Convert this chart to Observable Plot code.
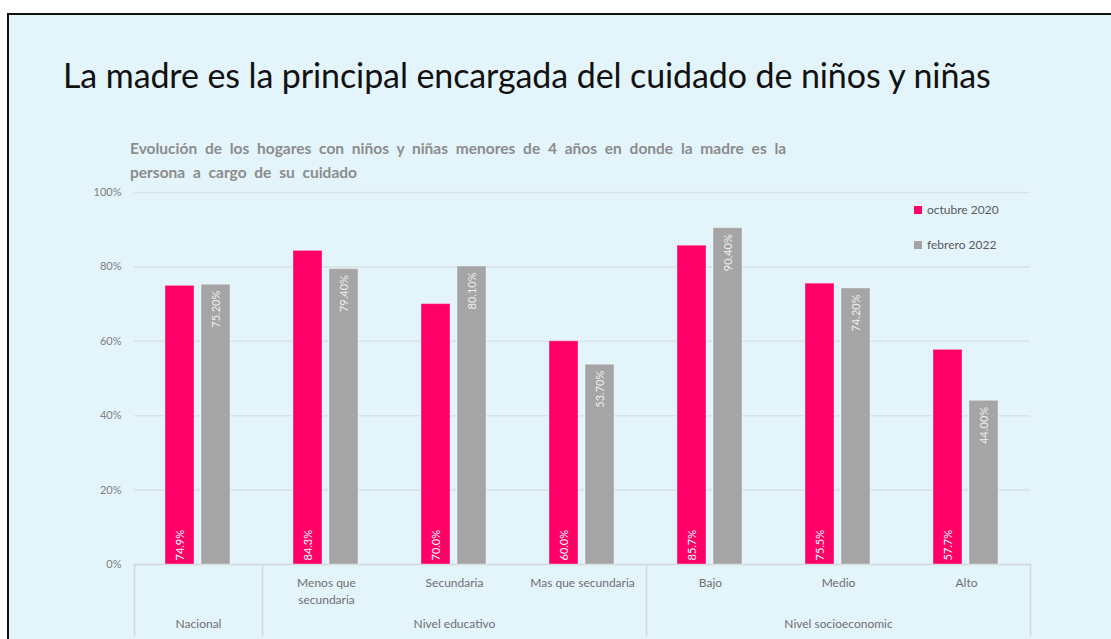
<!DOCTYPE html>
<html>
<head>
<meta charset="utf-8">
<script src="https://cdn.jsdelivr.net/npm/d3@7"></script>
<script src="https://cdn.jsdelivr.net/npm/@observablehq/plot@0.6"></script>
<style>
  html, body { margin: 0; padding: 0; background: #ffffff; width: 1111px; height: 639px; overflow: hidden; }
  #frame { position: absolute; left: 7px; top: 13px; right: -10px; bottom: -10px;
           background: #e3f4fb; border-left: 2px solid #111; border-top: 2px solid #111; }
  #title { position: absolute; left: 63px; top: 54px; font-family: Lato, sans-serif; font-size: 34px;
           color: #111; white-space: nowrap; letter-spacing: -0.1px; }
  #subtitle { position: absolute; left: 130px; top: 136px; font-family: Lato, sans-serif; font-weight: bold;
              font-size: 15.5px; line-height: 24px; color: #8c8c8c; white-space: nowrap; word-spacing: 4px; }
  #chart { position: absolute; left: 0; top: 180px; }
  .leg { position: absolute; left: 914px; font-family: Lato, sans-serif; font-size: 12px; color: #595959;
         display: flex; align-items: center; white-space: nowrap; }
  .leg span.sw { display: inline-block; width: 8px; height: 8px; margin-right: 5px; }
</style>
</head>
<body>
<div id="frame"></div>
<div id="title">La madre es la principal encargada del cuidado de niños y niñas</div>
<div id="subtitle">Evolución de los hogares con niños y niñas menores de 4 años en donde la madre es la<br>persona a cargo de su cuidado</div>
<div id="chart"></div>
<div id="legend"></div>
<script>
const categories = ["Nacional", "Menos que secundaria", "Secundaria", "Mas que secundaria", "Bajo", "Medio", "Alto"];
const categoryLabels = ["", "Menos que\nsecundaria", "Secundaria", "Mas que secundaria", "Bajo", "Medio", "Alto"];
const series = ["octubre 2020", "febrero 2022"];
const oct2020 = [74.9, 84.3, 70.0, 60.0, 85.7, 75.5, 57.7];
const feb2022 = [75.2, 79.4, 80.1, 53.7, 90.4, 74.2, 44.0];
const groupLabels = ["Nacional", "Nivel educativo", "Nivel socioeconomic"];
const groupAnchors = ["Nacional", "Secundaria", "Medio"];
const groupStarts = ["Nacional", "Menos que secundaria", "Bajo"];
const groupEnd = "Alto";
const yTicks = [0, 20, 40, 60, 80, 100];
const colors = ["#ff0066", "#a5a5a5"];

const data = [];
categories.forEach((c, i) => {
  data.push({cat: c, series: series[0], value: oct2020[i], label: oct2020[i].toFixed(1) + "%"});
  data.push({cat: c, series: series[1], value: feb2022[i], label: feb2022[i].toFixed(2) + "%"});
});
const catText = categories.map((c, i) => ({cat: c, text: categoryLabels[i]}));
const groups = groupLabels.map((g, i) => ({cat: groupAnchors[i], text: g}));

const axisColor = "#d3d8db";
const plot = Plot.plot({
  width: 1111,
  height: 459,
  marginTop: 12,
  marginBottom: 75,
  marginLeft: 131,
  marginRight: 78,
  style: {background: "transparent", fontFamily: "Lato, sans-serif", overflow: "visible"},
  fx: {domain: categories, padding: 0, axis: null},
  x: {domain: series, paddingInner: 0.19, paddingOuter: 0.8375, axis: null},
  y: {domain: [0, 100], axis: null},
  color: {domain: series, range: colors},
  marks: [
    Plot.gridY(yTicks.filter(d => d > 0), {stroke: "#d9e2e6", strokeOpacity: 1, strokeWidth: 1.5}),
    Plot.axisY({ticks: yTicks, tickFormat: d => d + "%", tickSize: 0, tickPadding: 13, label: null,
                fontSize: 11, fill: "#7f7f7f"}),
    Plot.ruleY([0], {stroke: axisColor, strokeWidth: 1.5}),
    ...groupStarts.map(g => Plot.frame({anchor: "left", fx: [g], stroke: axisColor, strokeWidth: 1.5,
                                         insetTop: 372, insetBottom: -71})),
    Plot.frame({anchor: "right", fx: [groupEnd], stroke: axisColor, strokeWidth: 1.5,
                insetTop: 372, insetBottom: -71}),
    Plot.barY(data, {fx: "cat", x: "series", y: "value", fill: "series",
                     stroke: "#ffffff", strokeOpacity: 0.35, strokeWidth: 1}),
    Plot.text(data.filter(d => d.series === series[0]), {
      fx: "cat", x: "series", y: 0, text: "label", rotate: -90, textAnchor: "start",
      dy: -4, fill: "#ffffff", fontSize: 11
    }),
    Plot.text(data.filter(d => d.series === series[1]), {
      fx: "cat", x: "series", y: "value", text: "label", rotate: -90, textAnchor: "end",
      dy: 6, fill: "#eeeeee", fontSize: 11
    }),
    Plot.text(catText, {fx: "cat", text: "text", frameAnchor: "bottom", lineAnchor: "top",
                        dy: 10, fontSize: 12, fill: "#6f6f6f", lineHeight: 1.45}),
    Plot.text(groups, {fx: "cat", text: "text", frameAnchor: "bottom", lineAnchor: "top",
                       dy: 55, fontSize: 12, fill: "#6f6f6f"})
  ]
});
document.getElementById("chart").appendChild(plot);

const legend = document.getElementById("legend");
series.forEach((s, i) => {
  const el = document.createElement("div");
  el.className = "leg";
  el.style.top = (202 + i * 35) + "px";
  el.innerHTML = `<span class="sw" style="background:${colors[i]}"></span>${s}`;
  legend.appendChild(el);
});
</script>
</body>
</html>
